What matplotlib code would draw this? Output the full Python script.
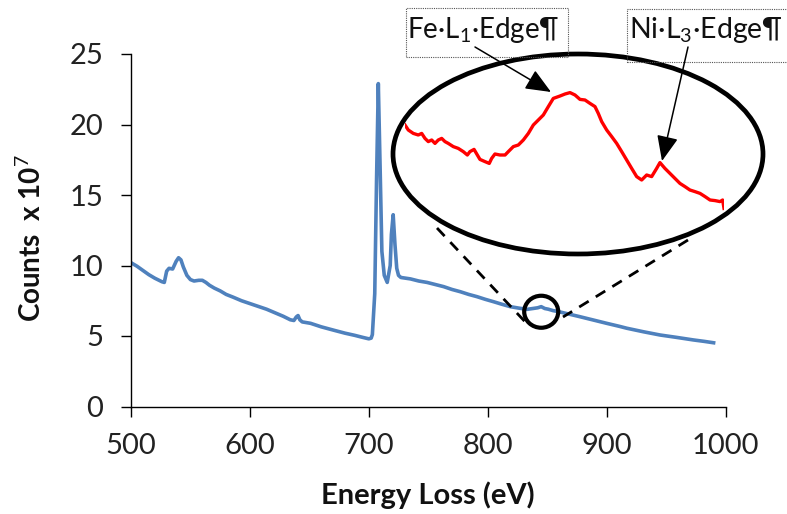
import matplotlib
matplotlib.use("Agg")
import matplotlib.pyplot as plt
from matplotlib.patches import Ellipse, Rectangle, FancyArrowPatch
from matplotlib.lines import Line2D

# EELS spectrum: energy loss (eV) vs counts (x 10^7)
energy = [500, 505, 510, 515, 520, 526, 528, 530, 532, 535, 538, 540, 542, 544,
          547, 550, 553, 557, 560, 563, 566, 570, 575, 580, 586, 593, 600, 607,
          614, 621, 628, 634, 637, 639, 640.5, 642, 644, 651, 660, 671, 680, 688,
          695, 700, 702, 703, 705, 706.5, 708, 709.5, 711, 713, 715.5, 718, 719,
          720.5, 722, 723.5, 725, 727, 731, 735, 742, 749, 756, 763, 770, 777,
          784, 791, 798, 805, 812, 819, 826, 833, 838, 842, 845, 848, 851, 855,
          860, 866, 877, 889, 900, 911, 917, 931, 945, 959, 973, 982, 990]
counts = [10.2, 9.95, 9.65, 9.35, 9.1, 8.85, 8.8, 9.6, 9.8, 9.75, 10.3, 10.55, 10.4, 9.9,
          9.3, 9.0, 8.9, 8.95, 8.95, 8.8, 8.6, 8.4, 8.2, 7.95, 7.75, 7.5, 7.3, 7.1,
          6.9, 6.65, 6.4, 6.15, 6.1, 6.35, 6.45, 6.15, 6.0, 5.9, 5.65, 5.4, 5.2, 5.05,
          4.9, 4.8, 4.85, 5.1, 8.0, 16.0, 22.9, 17.0, 11.0, 9.3, 8.8, 10.0, 12.2,
          13.6, 11.5, 9.8, 9.3, 9.15, 9.1, 9.05, 8.9, 8.8, 8.65, 8.5, 8.3, 8.14,
          7.95, 7.79, 7.6, 7.43, 7.25, 7.08, 6.98, 6.89, 6.95, 7.0, 7.08, 6.95, 6.9, 6.8,
          6.72, 6.6, 6.38, 6.13, 5.9, 5.68, 5.55, 5.3, 5.07, 4.9, 4.72, 4.62, 4.52]

# Magnified view of the Fe L1 / Ni L3 region
zoom_energy = [831.00, 831.29, 831.73, 832.17, 832.47, 832.76, 833.05, 833.35, 833.64,
               833.93, 834.23, 834.52, 834.81, 835.25, 835.69, 836.13, 836.49, 836.72,
               837.08, 837.37, 837.60, 838.04, 838.42, 838.63, 838.92, 839.36, 839.81,
               840.10, 840.54, 840.98, 841.42, 841.86, 842.30, 842.74, 843.18, 843.62,
               844.06, 844.65, 845.09, 845.53, 845.97, 846.41, 846.85, 847.29, 847.73,
               848.02, 848.32, 848.76, 849.20, 849.64, 850.08, 850.52, 850.96, 851.40,
               851.84, 852.28, 852.72, 853.16, 853.45, 853.89, 854.33, 854.77, 855.21,
               855.65, 856.09, 856.53, 856.98, 857.42, 857.86, 858.30, 858.74, 858.97,
               859.09]
zoom_counts = [6.925, 6.900, 6.883, 6.875, 6.883, 6.858, 6.842, 6.850, 6.833,
               6.850, 6.858, 6.842, 6.833, 6.817, 6.808, 6.792, 6.775, 6.792,
               6.803, 6.775, 6.753, 6.742, 6.733, 6.758, 6.780, 6.775, 6.775,
               6.792, 6.817, 6.825, 6.850, 6.883, 6.925, 6.950, 6.975, 7.017,
               7.058, 7.070, 7.080, 7.087, 7.075, 7.053, 7.050, 7.033, 7.017,
               6.983, 6.942, 6.900, 6.867, 6.833, 6.792, 6.750, 6.708, 6.667,
               6.650, 6.675, 6.667, 6.708, 6.737, 6.708, 6.683, 6.658, 6.633,
               6.617, 6.600, 6.592, 6.583, 6.567, 6.550, 6.547, 6.542, 6.550,
               6.508]

x_ticks = [500, 600, 700, 800, 900, 1000]
y_ticks = [0, 5, 10, 15, 20, 25]

W, H = 787, 514
FONT = "Lato"
plt.rcParams["font.family"] = [FONT, "DejaVu Sans"]
plt.rcParams["mathtext.fontset"] = "custom"
plt.rcParams["mathtext.rm"] = FONT
plt.rcParams["mathtext.it"] = FONT + ":italic"
plt.rcParams["mathtext.bf"] = FONT + ":bold"


def fx(x):
    return x / W


def fy(y):
    return 1 - y / H


fig = plt.figure(figsize=(W / 100, H / 100), dpi=100)

ax = fig.add_axes([fx(131), fy(406.5), fx(725.5) - fx(131), fy(54) - fy(406.5)])
ax.plot(energy, counts, color="#4F81BD", lw=2.6, solid_joinstyle="round")
ax.set_xlim(500, 1000)
ax.set_ylim(0, 25)
ax.set_xticks(x_ticks)
ax.set_yticks(y_ticks)
for s in ("top", "right"):
    ax.spines[s].set_visible(False)
for s in ("left", "bottom"):
    ax.spines[s].set_color("black")
    ax.spines[s].set_linewidth(1.0)
ax.tick_params(axis="both", direction="out", length=7, width=1.0, colors="black",
               labelsize=21, labelcolor="#222222")
ax.tick_params(axis="y", pad=13)
ax.tick_params(axis="x", pad=12)

fig.text(fx(31), fy(238), r"Counts  x 10$^{\mathrm{7}}$", rotation=90,
         fontsize=20, fontweight="bold", ha="center", va="center", color="#111111")
fig.text(fx(428), fy(495), "Energy Loss (eV)", fontsize=21, fontweight="bold",
         ha="center", va="center", color="#111111")

# small circle marking the magnified region
ax.add_patch(Ellipse((845, 6.72), width=28.6, height=2.27, fill=False,
                     ec="black", lw=3.0, zorder=5))

# dashed guide lines from the marked region to the magnified view
for (x0, y0), (x1, y1) in [((437, 228), (530, 327)), ((688, 240), (563, 317))]:
    fig.add_artist(Line2D([fx(x0), fx(x1)], [fy(y0), fy(y1)], transform=fig.transFigure,
                          color="black", lw=2.0, ls=(0, (4, 3))))

# magnified view
inset = fig.add_axes([fx(405), fy(220), fx(724) - fx(405), fy(80) - fy(220)])
inset.set_xlim(831, 859.09)
inset.set_ylim(6.45, 7.15)
inset.axis("off")
inset.patch.set_alpha(0)
inset.plot(zoom_energy, zoom_counts, color="#FF0000", lw=2.4, solid_joinstyle="round")

fig.add_artist(Ellipse((fx(578), fy(154)), width=fx(370), height=200 / H,
                       transform=fig.transFigure, fill=False, ec="black", lw=3.4))

# edge labels with dotted frames
fig.add_artist(Rectangle((fx(406), fy(57)), fx(162), 49 / H, transform=fig.transFigure,
                         fill=False, ec="#555555", lw=0.8, ls=(0, (1, 1))))
fig.add_artist(Rectangle((fx(627), fy(62)), fx(170), 53 / H, transform=fig.transFigure,
                         fill=False, ec="#555555", lw=0.8, ls=(0, (1, 1))))
fig.text(fx(407), fy(38), r"Fe·L$_{1}$·Edge¶", fontsize=20, ha="left",
         va="baseline", color="#111111")
fig.text(fx(629), fy(38), r"Ni·L$_{3}$·Edge¶", fontsize=20.5, ha="left",
         va="baseline", color="#111111")

for (x0, y0), (x1, y1) in [((475, 47), (551, 92)), ((688, 47), (662, 161))]:
    fig.add_artist(FancyArrowPatch((fx(x0), fy(y0)), (fx(x1), fy(y1)),
                                   transform=fig.transFigure,
                                   arrowstyle="-|>,head_length=1.3,head_width=0.55",
                                   mutation_scale=12, color="black", lw=1.1,
                                   shrinkA=0, shrinkB=0))

fig.savefig("out.png", dpi=100)
